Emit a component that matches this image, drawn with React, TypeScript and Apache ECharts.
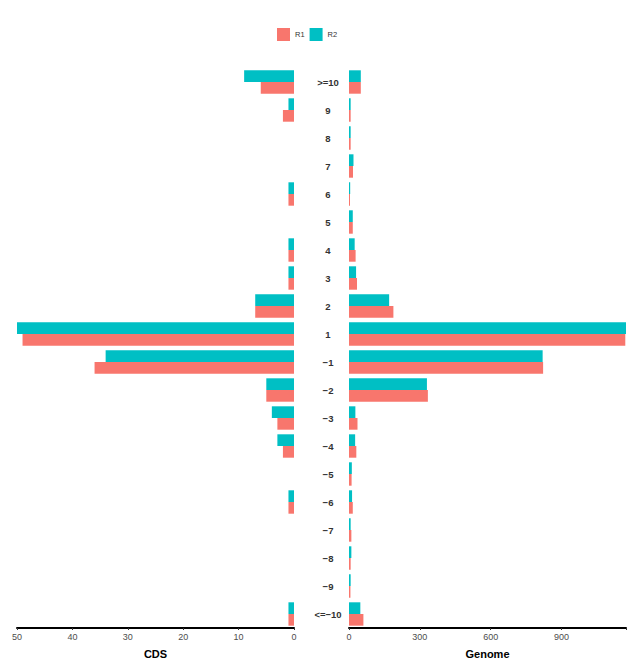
import React, { useEffect, useRef } from 'react'
import * as echarts from 'echarts'

// categories, top to bottom
const categories = ['>=10', '9', '8', '7', '6', '5', '4', '3', '2', '1', '\u22121', '\u22122', '\u22123', '\u22124', '\u22125', '\u22126', '\u22127', '\u22128', '\u22129', '<=\u221210']

// CDS counts
const cdsR1 = [6, 2, 0, 0, 1, 0, 1, 1, 7, 49, 36, 5, 3, 2, 0, 1, 0, 0, 0, 1]
const cdsR2 = [9, 1, 0, 0, 1, 0, 1, 1, 7, 50, 34, 5, 4, 3, 0, 1, 0, 0, 0, 1]

// Genome counts
const genomeR1 = [50, 7, 7, 17, 4, 16, 28, 34, 188, 1170, 822, 334, 36, 31, 11, 16, 10, 7, 6, 61]
const genomeR2 = [50, 7, 7, 19, 5, 16, 24, 30, 170, 1173, 820, 330, 27, 26, 12, 13, 7, 10, 7, 48]

const cdsTicks = { min: 0, max: 50, interval: 10 }
const genomeTicks = { min: 0, max: 1173, interval: 300 }

const R1_COLOR = '#F8766D'
const R2_COLOR = '#00BFC4'
const FONT = 'Liberation Sans'

const App: React.FC = () => {
  const chartRef = useRef<HTMLDivElement>(null)

  useEffect(() => {
    document.body.style.margin = '0'
    if (!chartRef.current) return
    const chart = echarts.init(chartRef.current, null, { renderer: 'svg' })

    const axisCommon = {
      axisLine: { show: true, lineStyle: { color: '#000', width: 2 } },
      axisTick: { show: true, length: 2, lineStyle: { color: '#333' } },
      splitLine: { show: false },
      nameLocation: 'middle' as const,
      nameGap: 20,
      nameTextStyle: { color: '#000', fontSize: 11, fontWeight: 'bold' as const, fontFamily: FONT },
    }

    const barCommon = {
      type: 'bar' as const,
      barWidth: 11.7,
      barGap: '0%',
      barMinHeight: 1,
    }

    chart.setOption({
      animation: false,
      backgroundColor: '#fff',
      textStyle: { fontFamily: FONT },
      legend: {
        data: ['R1', 'R2'],
        left: 272,
        top: 23,
        itemWidth: 13,
        itemHeight: 13,
        itemGap: 5,
        icon: 'rect',
        textStyle: { fontSize: 7.5, color: '#333', fontFamily: FONT },
      },
      grid: [
        { left: 17, right: 336, top: 68, bottom: 32 },
        { left: 349, right: 4, top: 68, bottom: 32 },
      ],
      xAxis: [
        {
          ...axisCommon,
          gridIndex: 0,
          type: 'value',
          inverse: true,
          min: cdsTicks.min,
          max: cdsTicks.max,
          interval: cdsTicks.interval,
          name: 'CDS',
          axisLabel: { color: '#4d4d4d', fontSize: 9, margin: 4, fontFamily: FONT },
        },
        {
          ...axisCommon,
          gridIndex: 1,
          type: 'value',
          min: genomeTicks.min,
          max: genomeTicks.max,
          interval: genomeTicks.interval,
          name: 'Genome',
          axisLabel: {
            color: '#4d4d4d',
            fontSize: 9,
            margin: 4,
            fontFamily: FONT,
            formatter: (v: number) => (v % genomeTicks.interval === 0 ? String(v) : ''),
          },
        },
      ],
      yAxis: [
        {
          gridIndex: 0,
          type: 'category',
          data: categories,
          inverse: true,
          position: 'right',
          axisLine: { show: false },
          axisTick: { show: false },
          axisLabel: { show: false },
        },
        {
          gridIndex: 1,
          type: 'category',
          data: categories,
          inverse: true,
          position: 'left',
          axisLine: { show: false },
          axisTick: { show: false },
          axisLabel: {
            align: 'center',
            margin: 21,
            color: '#333',
            fontSize: 9.5,
            fontWeight: 'bold',
            fontFamily: FONT,
          },
        },
      ],
      series: [
        { ...barCommon, name: 'R2', xAxisIndex: 0, yAxisIndex: 0, data: cdsR2, itemStyle: { color: R2_COLOR } },
        { ...barCommon, name: 'R1', xAxisIndex: 0, yAxisIndex: 0, data: cdsR1, itemStyle: { color: R1_COLOR } },
        { ...barCommon, name: 'R2', xAxisIndex: 1, yAxisIndex: 1, data: genomeR2, itemStyle: { color: R2_COLOR } },
        { ...barCommon, name: 'R1', xAxisIndex: 1, yAxisIndex: 1, data: genomeR1, itemStyle: { color: R1_COLOR } },
      ],
    })

    return () => {
      chart.dispose()
    }
  }, [])

  return <div ref={chartRef} style={{ width: '630px', height: '664px' }} />
}

export default App
